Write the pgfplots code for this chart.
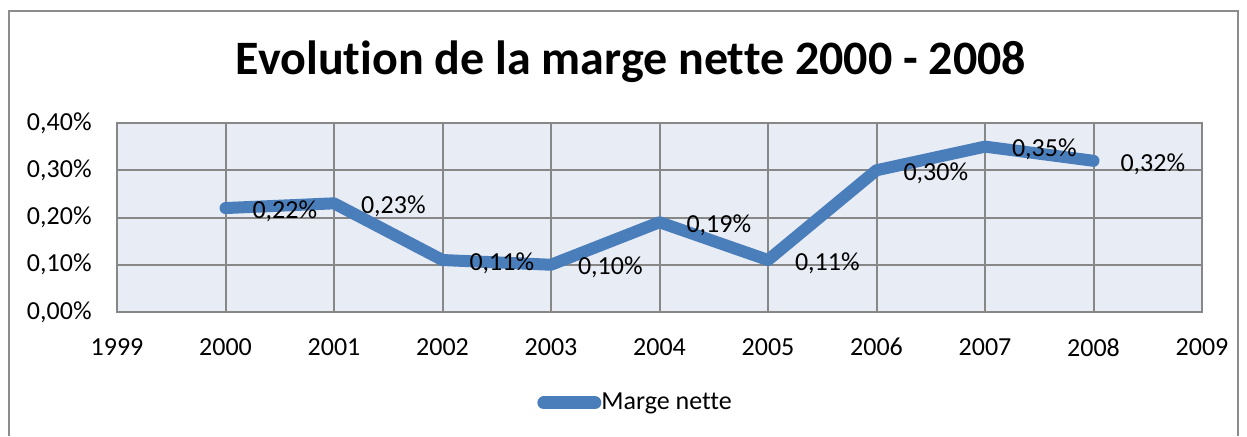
\documentclass[border=0pt]{standalone}
\usepackage{fontspec}
\setmainfont[Ligatures=NoCommon]{Carlito}
\usepackage{pgfplots}
\pgfplotsset{compat=1.18}
\definecolor{serie}{HTML}{4A7EBB}
\definecolor{grille}{HTML}{878787}
\definecolor{fond}{HTML}{E8ECF4}
\definecolor{cadre}{HTML}{8C8C8C}
\begin{document}
\begin{tikzpicture}
\useasboundingbox (0pt,0pt) rectangle (623.5pt,218pt);
\draw[cadre, line width=1.2pt] (4.5pt,0pt) -- (4.5pt,212.5pt) -- (619pt,212.5pt) -- (619pt,0pt);
\node[font=\fontsize{24pt}{28pt}\selectfont\bfseries] at (315.5pt,187pt) {Evolution de la marge nette 2000 - 2008};
\begin{axis}[
  at={(58.5pt,62pt)}, anchor=south west,
  scale only axis, width=542.5pt, height=94.5pt,
  xmin=1999, xmax=2009, ymin=0, ymax=0.4,
  xtick={1999,2000,2001,2002,2003,2004,2005,2006,2007,2008,2009},
  ytick={0,0.1,0.2,0.3,0.4},
  major tick length=0pt,
  axis background/.style={fill=fond},
  axis line style={draw=grille, line width=1pt},
  grid=major,
  major grid style={draw=grille, line width=1pt},
  /pgf/number format/assume math mode=true,
  ticklabel style={font=\fontsize{13pt}{15pt}\selectfont, inner sep=0pt},
  xticklabel style={/pgf/number format/1000 sep={}, yshift=-13pt},
  yticklabel style={xshift=-12.5pt},
  yticklabel={\pgfmathprintnumber[fixed,fixed zerofill,precision=2,use comma]{\tick}\%},
  legend style={at={(0.477,-0.481)}, anchor=center, draw=none, fill=none,
    font=\fontsize{13pt}{15pt}\selectfont, inner sep=0pt,
    nodes={inner sep=0pt}},
  legend image code/.code={\draw[serie, line width=6.5pt, line cap=round] (3pt,0pt) -- (28.5pt,0pt);},
  clip=false,
]
\addplot[serie, line width=6pt, line cap=round, line join=round,
  point meta=y,
  nodes near coords={\pgfmathprintnumber[fixed,fixed zerofill,precision=2,use comma,assume math mode=true]{\pgfplotspointmeta}\%},
  nodes near coords style={anchor=west, xshift=10.5pt, yshift=-1.5pt, inner sep=0pt,
    text=black, font=\fontsize{13pt}{15pt}\selectfont}]
  coordinates {
  (2000,0.22) (2001,0.23) (2002,0.11) (2003,0.10) (2004,0.19)
  (2005,0.11) (2006,0.30) (2007,0.35) (2008,0.32)
  };
\addlegendentry{Marge nette}
\end{axis}
\end{tikzpicture}
\end{document}
